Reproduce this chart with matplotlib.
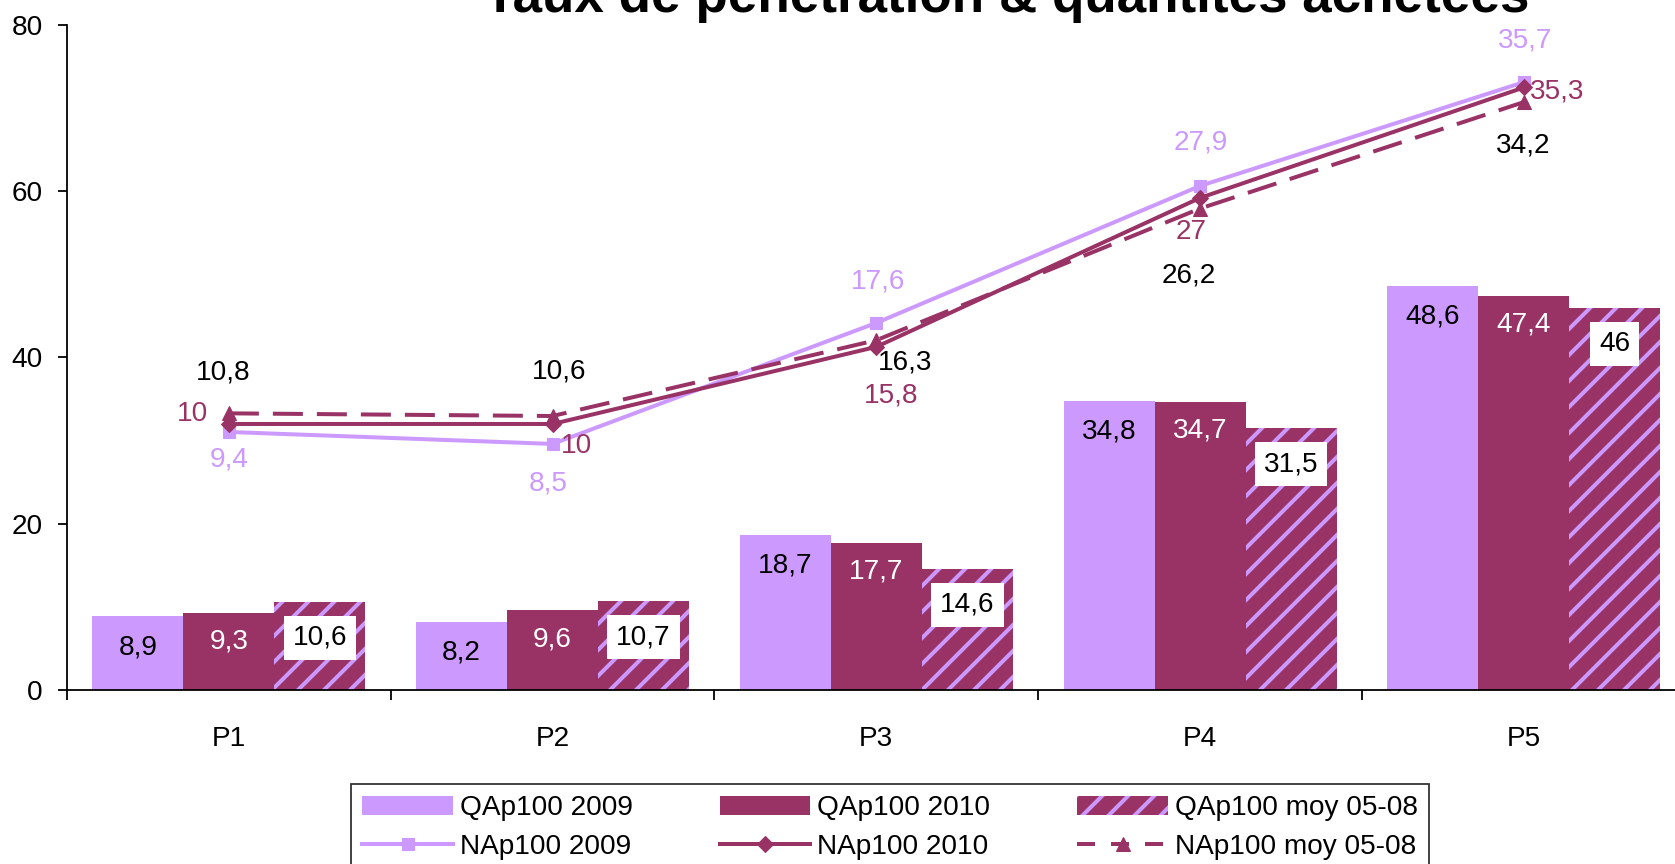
import matplotlib.pyplot as plt
import numpy as np

DPI = 78
PX = 72 / DPI  # points per pixel

plt.rcParams['font.family'] = ['Liberation Sans', 'DejaVu Sans']
plt.rcParams['hatch.linewidth'] = 4 * PX

categories = ['P1', 'P2', 'P3', 'P4', 'P5']
qa_2009 = [8.9, 8.2, 18.7, 34.8, 48.6]
qa_2010 = [9.3, 9.6, 17.7, 34.7, 47.4]
qa_moy = [10.6, 10.7, 14.6, 31.5, 46]
na_2009 = [9.4, 8.5, 17.6, 27.9, 35.7]
na_2010 = [10, 10, 15.8, 27, 35.3]
na_moy = [10.8, 10.6, 16.3, 26.2, 34.2]

light = '#CC99FF'
dark = '#993366'
fs = 28 * PX


def fmt(v):
    return f"{v:g}".replace('.', ',')


fig = plt.figure(figsize=(1675 / DPI, 864 / DPI), dpi=DPI)
ax = fig.add_axes([0.04, 0.2014, 0.9664, 0.7697])
x = np.arange(len(categories))
w = 0.281

b1 = ax.bar(x - w, qa_2009, w, color=light, label='QAp100 2009', zorder=2)
b2 = ax.bar(x, qa_2010, w, color=dark, label='QAp100 2010', zorder=2)
b3 = ax.bar(x + w, qa_moy, w, color=dark, edgecolor=light, linewidth=0,
            hatch='/', label='QAp100 moy 05-08', zorder=2)

# bar labels, px below the bar top
for xi, v in zip(x - w, qa_2009):
    ax.annotate(fmt(v), (xi, v), xytext=(0, -31 * PX), textcoords='offset points',
                ha='center', va='center', fontsize=fs, color='black', zorder=5)
for xi, v in zip(x, qa_2010):
    ax.annotate(fmt(v), (xi, v), xytext=(0, -29 * PX), textcoords='offset points',
                ha='center', va='center', fontsize=fs, color='white', zorder=5)
for xi, v in zip(x + w, qa_moy):
    ax.annotate(fmt(v), (xi, v), xytext=(0, -36 * PX), textcoords='offset points',
                ha='center', va='center', fontsize=fs, color='black', zorder=5,
                bbox=dict(boxstyle='square,pad=0.32', fc='white', ec='none'))

ax.set_xlim(-0.5, 4.5)
ax.set_ylim(0, 80)
ax.set_yticks([0, 20, 40, 60, 80])
ax.set_xticks(x)
ax.set_xticklabels(categories)
ax.set_xticks(np.arange(-0.5, 5, 1), minor=True)
ax.tick_params(axis='x', which='major', length=0, pad=36 * PX, labelsize=fs)
ax.tick_params(axis='x', which='minor', length=10 * PX, width=1.8 * PX, direction='out')
ax.tick_params(axis='y', length=9 * PX, width=1.8 * PX, pad=15 * PX, labelsize=fs)
for s in ['top', 'right']:
    ax.spines[s].set_visible(False)
for s in ['left', 'bottom']:
    ax.spines[s].set_linewidth(1.8 * PX)

# hidden secondary axis for the lines
ax2 = ax.twinx()
ax2.set_ylim(-10, 40)
ax2.axis('off')

l1, = ax2.plot(x, na_2009, color=light, lw=4 * PX, marker='s', ms=12.5 * PX,
               label='NAp100 2009', zorder=3)
l2, = ax2.plot(x, na_2010, color=dark, lw=4 * PX, marker='D', ms=12 * PX,
               label='NAp100 2010', zorder=3)
l3, = ax2.plot(x, na_moy, color=dark, lw=4 * PX, marker='^', ms=14 * PX,
               dashes=[7.5, 3.5], label='NAp100 moy 05-08', zorder=3)

# label offsets in px (dx, dy downward)
off_2009 = [(0, 28), (-4, 40), (2, -41), (1, -43), (1, -42)]
off_2010 = [(-36, -10), (24, 22), (15, 49), (-9, 34), (33, 4)]
off_moy = [(-6, -41), (7, -45), (29, 22), (-11, 67), (-1, 43)]
for vals, offs, col in [(na_2009, off_2009, light), (na_2010, off_2010, dark),
                        (na_moy, off_moy, 'black')]:
    for xi, v, (dx, dy) in zip(x, vals, offs):
        ax2.annotate(fmt(v), (xi, v), xytext=(dx * PX, -dy * PX),
                     textcoords='offset points', ha='center', va='center',
                     fontsize=fs, color=col, zorder=6)

fig.text(0.601, 1 - 12 / 864, 'Taux de pénétration & quantités achetées',
         ha='center', va='baseline', fontsize=53 * PX, fontweight='bold')

# column-major order so rows read QAp100 ... / NAp100 ...
leg = fig.legend([b1, l1, b2, l2, b3, l3],
                 ['QAp100 2009', 'NAp100 2009', 'QAp100 2010',
                  'NAp100 2010', 'QAp100 moy 05-08', 'NAp100 moy 05-08'],
                 loc='upper left', bbox_to_anchor=(0.2012, 1 - 770 / 864),
                 ncol=3, fontsize=fs, frameon=True, fancybox=False,
                 edgecolor='black', handlelength=3.24, handletextpad=0.25,
                 columnspacing=3.1, labelspacing=0.45, borderpad=0.4)
leg.get_frame().set_linewidth(1.8 * PX)
leg.get_lines()[2].set_dashes([4.5, 4.0]) if len(leg.get_lines()) > 2 else None

fig.savefig('out.png', dpi=DPI)
